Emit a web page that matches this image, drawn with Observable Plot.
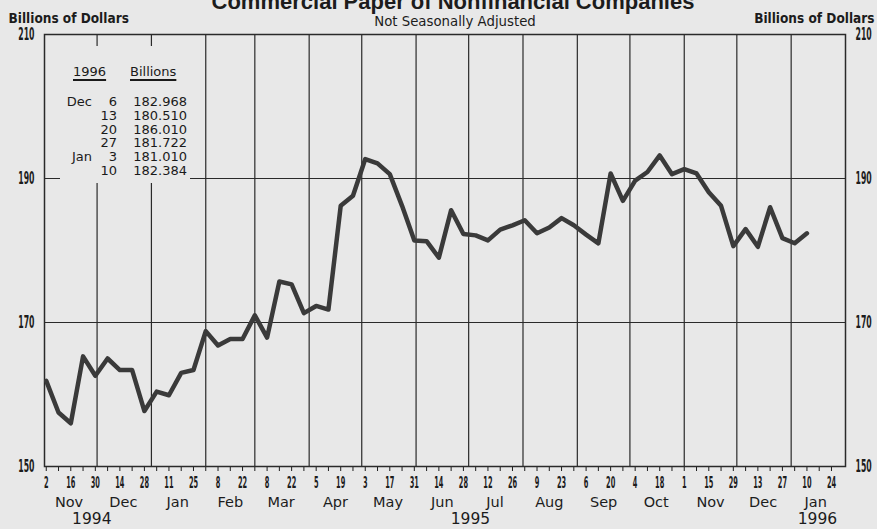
<!DOCTYPE html>
<html>
<head>
<meta charset="utf-8">
<script src="https://cdn.jsdelivr.net/npm/d3@7"></script>
<script src="https://cdn.jsdelivr.net/npm/@observablehq/plot@0.6"></script>
<style>
  html, body { margin: 0; padding: 0; background: #e8e8e8; overflow: hidden; }
  #wrap { position: relative; width: 877px; height: 529px; }
  #table { position: absolute; left: 60px; top: 46px; width: 130px; height: 137px;
    background: #e8e8e8; font-family: "DejaVu Sans", sans-serif; font-size: 13px; color: #1a1a1a; }
  #table span { position: absolute; line-height: 14px; white-space: nowrap; }
  #table .hd { text-decoration: underline; text-decoration-thickness: 1.5px; text-underline-offset: 3px; }
</style>
</head>
<body>
<div id="wrap"></div>
<script>
const titleText = "Commercial Paper of Nonfinancial Companies";
const subtitleText = "Not Seasonally Adjusted";
const unitText = "Billions of Dollars";

const dataDates = [
  "1994-11-02","1994-11-09","1994-11-16","1994-11-23","1994-11-30",
  "1994-12-07","1994-12-14","1994-12-21","1994-12-28",
  "1995-01-04","1995-01-11","1995-01-18","1995-01-25",
  "1995-02-01","1995-02-08","1995-02-15","1995-02-22",
  "1995-03-01","1995-03-08","1995-03-15","1995-03-22","1995-03-29",
  "1995-04-05","1995-04-12","1995-04-19","1995-04-26",
  "1995-05-03","1995-05-10","1995-05-17","1995-05-24","1995-05-31",
  "1995-06-07","1995-06-14","1995-06-21","1995-06-28",
  "1995-07-05","1995-07-12","1995-07-19","1995-07-26",
  "1995-08-02","1995-08-09","1995-08-16","1995-08-23","1995-08-30",
  "1995-09-06","1995-09-13","1995-09-20","1995-09-27",
  "1995-10-04","1995-10-11","1995-10-18","1995-10-25",
  "1995-11-01","1995-11-08","1995-11-15","1995-11-22","1995-11-29",
  "1995-12-06","1995-12-13","1995-12-20","1995-12-27",
  "1996-01-03","1996-01-10"
];
const paperValues = [
  161.9,157.5,156.0,165.3,162.6,
  165.0,163.4,163.4,157.7,
  160.4,159.9,163.0,163.4,
  168.8,166.8,167.7,167.7,
  171.0,167.9,175.7,175.3,171.3,
  172.3,171.8,186.2,187.6,
  192.7,192.1,190.6,186.2,181.4,
  181.3,179.0,185.6,182.3,
  182.1,181.4,182.9,183.5,
  184.2,182.4,183.2,184.5,183.5,
  182.2,181.0,190.7,186.9,
  189.7,190.9,193.2,190.6,
  191.3,190.7,188.1,186.2,180.6,
  182.968,180.510,186.010,181.722,
  181.010,182.384
];

const xDomain = ["1994-11-01","1996-02-01"];
const tickDates = dataDates.concat(["1996-01-17","1996-01-24"]);
const tickLabels = [
  "2","","16","","30","","14","","28","","11","","25","","8","","22","",
  "8","","22","","5","","19","","3","","17","","31","","14","","28","",
  "12","","26","","9","","23","","6","","20","","4","","18","","1","",
  "15","","29","","13","","27","","10","","24"
];
const yTicks = [150, 170, 190, 210];
const yGrid = [170, 190];

const monthStarts = [
  "1994-12-01","1995-01-01","1995-02-01","1995-03-01","1995-04-01","1995-05-01",
  "1995-06-01","1995-07-01","1995-08-01","1995-09-01","1995-10-01","1995-11-01",
  "1995-12-01","1996-01-01"
];
const monthNames = ["Nov","Dec","Jan","Feb","Mar","Apr","May","Jun","Jul","Aug","Sep","Oct","Nov","Dec","Jan"];
const monthMids = [
  "1994-11-15","1994-12-16","1995-01-16","1995-02-15","1995-03-16","1995-04-16",
  "1995-05-16","1995-06-16","1995-07-16","1995-08-16","1995-09-16","1995-10-16",
  "1995-11-16","1995-12-16","1996-01-15"
];
const yearNames = ["1994","1995","1996"];
const yearPos = ["1994-11-28","1995-07-02","1996-01-16"];

const tableHeader = ["1996", "Billions"];
const tableMonths = ["Dec","","","","Jan",""];
const tableDays = ["6","13","20","27","3","10"];
const tableValues = ["182.968","180.510","186.010","181.722","181.010","182.384"];

const series = dataDates.map((d, i) => ({date: new Date(d), value: paperValues[i]}));
const labelMap = new Map(tickDates.map((d, i) => [+new Date(d), tickLabels[i]]));
const months = monthNames.map((m, i) => ({date: new Date(monthMids[i]), name: m}));
const years = yearNames.map((y, i) => ({date: new Date(yearPos[i]), name: y}));

const ink = "#1c1c1c";
const chart = Plot.plot({
  width: 877,
  height: 529,
  marginLeft: 44,
  marginRight: 32,
  marginTop: 34,
  marginBottom: 63,
  style: {background: "#e8e8e8", color: ink, fontFamily: "DejaVu Sans, sans-serif", fontSize: "12px"},
  x: {
    type: "utc",
    domain: xDomain.map(d => new Date(d)),
    ticks: tickDates.map(d => new Date(d)),
    tickFormat: d => labelMap.get(+d) ?? "",
    tickSize: 5,
    tickPadding: 5,
    label: null
  },
  y: {
    domain: [150, 210],
    ticks: yTicks,
    tickSize: 0,
    tickPadding: 10,
    axis: "both",
    label: null
  },
  marks: [
    Plot.ruleY(yGrid, {stroke: "#2a2a2a", strokeWidth: 1.2}),
    Plot.ruleX(monthStarts.map(d => new Date(d)), {stroke: "#2a2a2a", strokeWidth: 1.2}),
    Plot.frame({stroke: "#2a2a2a", strokeWidth: 1.5}),
    Plot.line(series, {x: "date", y: "value", stroke: "#3a3a3a", strokeWidth: 4.5, strokeLinejoin: "round", strokeLinecap: "round"}),
    Plot.text(months, {x: "date", text: "name", frameAnchor: "bottom", lineAnchor: "middle", dy: 36,
      fontSize: 14.5, fontFamily: "DejaVu Sans, sans-serif", fill: ink}),
    Plot.text(years, {x: "date", text: "name", frameAnchor: "bottom", lineAnchor: "middle", dy: 53,
      fontSize: 15.5, fontFamily: "DejaVu Sans, sans-serif", fill: ink}),
    Plot.text([titleText], {frameAnchor: "top", textAnchor: "middle", lineAnchor: "middle", dx: 8, dy: -33,
      fontSize: 22, fontWeight: "bold", fontFamily: "Liberation Sans, Arial, sans-serif", fill: ink}),
    Plot.text([subtitleText], {frameAnchor: "top", textAnchor: "middle", lineAnchor: "middle", dx: 10, dy: -13,
      fontSize: 13.3, fontFamily: "DejaVu Sans, sans-serif", fill: ink}),
    Plot.text([unitText], {frameAnchor: "top-left", textAnchor: "start", lineAnchor: "middle", dx: -36, dy: -16,
      fontSize: 13.5, fontWeight: "bold", fontFamily: "DejaVu Sans Condensed, sans-serif", fill: ink}),
    Plot.text([unitText], {frameAnchor: "top-right", textAnchor: "end", lineAnchor: "middle", dx: 29, dy: -16,
      fontSize: 13.5, fontWeight: "bold", fontFamily: "DejaVu Sans Condensed, sans-serif", fill: ink})
  ]
});

// narrow, tall plotter-style numerals on both axes
const squeeze = (sel, size, perChar) => d3.select(chart).selectAll(sel).each(function () {
  this.style.fontFamily = "'DejaVu Sans Condensed', 'DejaVu Sans', sans-serif";
  this.style.fontWeight = "bold";
  this.style.fontSize = size + "px";
  const n = this.textContent.trim().length;
  if (n) { this.setAttribute("textLength", n * perChar); this.setAttribute("lengthAdjust", "spacingAndGlyphs"); }
});
squeeze('[aria-label^="x-axis"] text', 16, 4.6);
squeeze('[aria-label^="y-axis"] text', 18, 5.4);

const wrap = document.getElementById("wrap");
wrap.append(chart);

// inset table drawn as HTML over the plot
const box = document.createElement("div");
box.id = "table";
const add = (txt, css, cls) => {
  const s = document.createElement("span");
  s.textContent = txt;
  s.style.cssText = css;
  if (cls) s.className = cls;
  box.append(s);
};
add(tableHeader[0], "left:13px;top:19px;", "hd");
add(tableHeader[1], "left:70px;top:19px;", "hd");
tableDays.forEach((d, i) => {
  const top = 48.7 + 13.9 * i;
  add(tableMonths[i], `right:98px;top:${top}px;`);
  add(d, `right:73px;top:${top}px;`);
  add(tableValues[i], `right:3px;top:${top}px;`);
});
wrap.append(box);
</script>
</body>
</html>
